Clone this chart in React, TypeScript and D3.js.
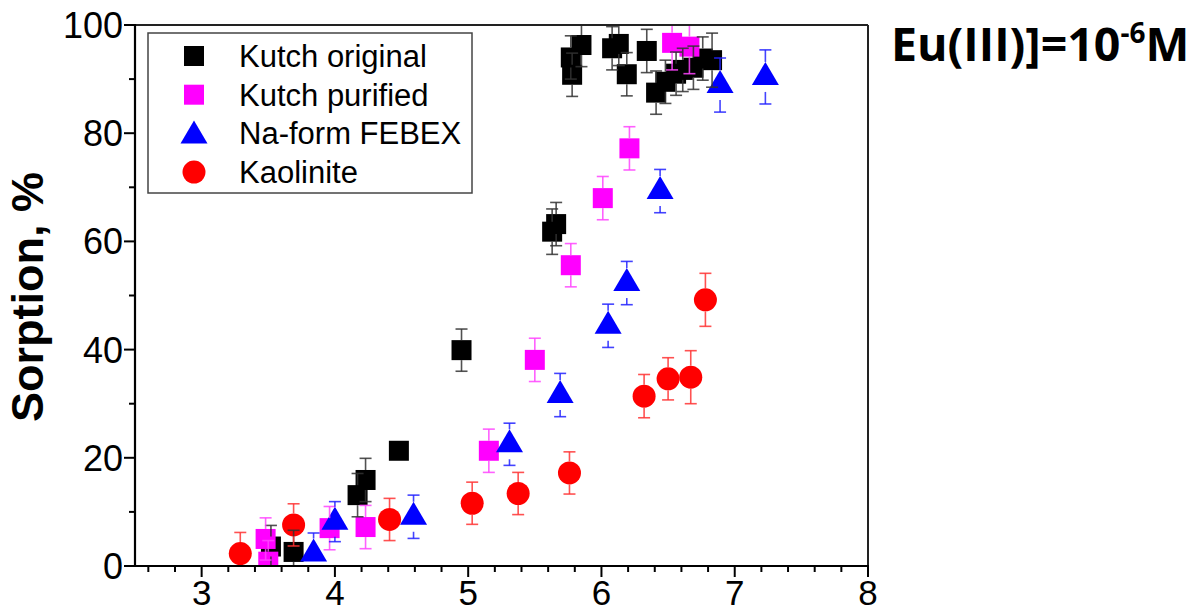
import React from 'react';
import * as d3 from 'd3';

// ---------- data ----------
const kutchOrigX = [3.52, 3.69, 4.17, 4.23, 4.48, 4.95, 5.63, 5.66, 5.77, 5.78, 5.85, 6.08, 6.13, 6.19, 6.34, 6.41, 6.48, 6.56, 6.61, 6.69, 6.76, 6.83];
const kutchOrigY = [3.6, 2.6, 13.1, 15.9, 21.3, 39.9, 61.8, 63.2, 94.0, 90.8, 96.3, 95.7, 96.5, 90.9, 95.2, 87.5, 89.5, 91.0, 91.7, 92.1, 93.8, 93.5];
const kutchOrigErr = [3.9, 4, 4, 4, 0, 3.9, 4.2, 4, 4, 4, 4, 4, 4, 4, 4, 4, 4, 4, 4, 4, 4, 5];

const kutchPurX = [3.48, 3.5, 3.96, 4.23, 5.155, 5.5, 5.77, 6.01, 6.21, 6.53, 6.66];
const kutchPurY = [5.0, 0.8, 7.0, 7.2, 21.3, 38.1, 55.6, 68.0, 77.2, 96.7, 96.0];
const kutchPurErr = [3.9, 3.9, 4, 4, 4, 4, 4, 4, 4, 5, 5];

const febexX = [3.84, 4.0, 4.59, 5.31, 5.69, 6.05, 6.19, 6.44, 6.89, 7.23];
const febexY = [2.3, 8.2, 9.1, 22.5, 31.6, 44.4, 52.3, 69.3, 88.9, 90.4];
const febexErr = [3.8, 3.7, 4, 3.9, 4, 4, 4, 4, 5, 5];

const kaolX = [3.29, 3.69, 4.41, 5.03, 5.375, 5.76, 6.32, 6.5, 6.67, 6.78];
const kaolY = [2.3, 7.6, 8.6, 11.6, 13.4, 17.2, 31.4, 34.6, 34.9, 49.2];
const kaolErr = [3.9, 3.9, 3.9, 3.9, 3.9, 3.9, 4, 3.9, 4.9, 4.9];

const seriesNames = ['Kutch original', 'Kutch purified', 'Na-form FEBEX', 'Kaolinite'];
const xTicks = [3, 4, 5, 6, 7, 8];
const yTicks = [0, 20, 40, 60, 80, 100];

// ---------- layout ----------
const W = 1194, H = 613;
const L = 135, R = 868, T = 25, B = 566;
const x = d3.scaleLinear().domain([2.5, 8]).range([L, R]);
const y = d3.scaleLinear().domain([0, 100]).range([B, T]);

type Shape = 'square' | 'triangle' | 'circle';
const series: { name: string; xs: number[]; ys: number[]; es: number[]; color: string; errColor: string; shape: Shape }[] = [
  { name: seriesNames[0], xs: kutchOrigX, ys: kutchOrigY, es: kutchOrigErr, color: '#000000', errColor: '#333333', shape: 'square' },
  { name: seriesNames[1], xs: kutchPurX, ys: kutchPurY, es: kutchPurErr, color: '#ff00ff', errColor: '#ff44ff', shape: 'square' },
  { name: seriesNames[2], xs: febexX, ys: febexY, es: febexErr, color: '#0000ff', errColor: '#2222ff', shape: 'triangle' },
  { name: seriesNames[3], xs: kaolX, ys: kaolY, es: kaolErr, color: '#ff0000', errColor: '#ff3333', shape: 'circle' },
];

const gapOf: Record<Shape, number> = { square: 10, triangle: 15, circle: 11.5 };

function Marker({ shape, cx, cy, color }: { shape: Shape; cx: number; cy: number; color: string }) {
  if (shape === 'square') return <rect x={cx - 10} y={cy - 10} width={20} height={20} fill={color} />;
  if (shape === 'circle') return <circle cx={cx} cy={cy} r={11.5} fill={color} />;
  return <path d={`M${cx},${cy - 15}L${cx + 13.5},${cy + 8}L${cx - 13.5},${cy + 8}Z`} fill={color} />;
}

export default function App() {
  const font = '"Liberation Sans", Arial, sans-serif';
  const xMinor = d3.range(2.6, 8.0001, 0.2).filter((v) => Math.abs(v - Math.round(v)) > 0.01);
  const yMinor = [10, 30, 50, 70, 90];

  return (
    <svg width={W} height={H} style={{ position: 'absolute', left: 0, top: 0, background: '#fff' }} fontFamily={font}>
      <defs>
        <clipPath id="plot">
          <rect x={L} y={T} width={R - L} height={B - T} />
        </clipPath>
      </defs>
      <rect x={0} y={0} width={W} height={H} fill="#fff" />

      {/* markers */}
      <g clipPath="url(#plot)">
        {series.map((s) =>
          s.xs.map((xv, i) => <Marker key={s.name + i} shape={s.shape} cx={x(xv)} cy={y(s.ys[i])} color={s.color} />)
        )}
        {/* error bars */}
        {series.map((s) =>
          s.xs.map((xv, i) => {
            const cx = x(xv), cy = y(s.ys[i]);
            const len = y(0) - y(s.es[i]);
            const g = gapOf[s.shape];
            if (len <= g) return null;
            return (
              <g key={'e' + s.name + i} stroke={s.errColor} strokeWidth={1.6} strokeOpacity={0.85}>
                <line x1={cx} x2={cx} y1={cy - g} y2={cy - len} />
                <line x1={cx - 6} x2={cx + 6} y1={cy - len} y2={cy - len} />
                <line x1={cx} x2={cx} y1={cy + g} y2={cy + len} />
                <line x1={cx - 6} x2={cx + 6} y1={cy + len} y2={cy + len} />
              </g>
            );
          })
        )}
      </g>

      {/* frame */}
      <line x1={L} x2={R} y1={T} y2={T} stroke="#222" strokeWidth={2} />
      <line x1={R} x2={R} y1={T} y2={B} stroke="#222" strokeWidth={2} />
      <line x1={L} x2={L} y1={T - 1} y2={B + 1} stroke="#000" strokeWidth={2.2} />
      <line x1={L - 1} x2={R + 1} y1={B} y2={B} stroke="#000" strokeWidth={2.2} />

      {/* x ticks */}
      {xTicks.map((t) => (
        <g key={'xt' + t}>
          <line x1={x(t)} x2={x(t)} y1={B} y2={B + 11} stroke="#000" strokeWidth={2} />
          <text x={x(t)} y={605} textAnchor="middle" fontSize={35}>{t}</text>
        </g>
      ))}
      {xMinor.map((t) => (
        <line key={'xm' + t} x1={x(t)} x2={x(t)} y1={B} y2={B + 6} stroke="#000" strokeWidth={2} />
      ))}

      {/* y ticks */}
      {yTicks.map((t) => (
        <g key={'yt' + t}>
          <line x1={L - 11} x2={L} y1={y(t)} y2={y(t)} stroke="#000" strokeWidth={2} />
          <text x={123} y={y(t)} dy="0.36em" textAnchor="end" fontSize={36}>{t}</text>
        </g>
      ))}
      {yMinor.map((t) => (
        <line key={'ym' + t} x1={L - 6} x2={L} y1={y(t)} y2={y(t)} stroke="#000" strokeWidth={2} />
      ))}

      {/* y title */}
      <text transform="translate(43,297) rotate(-90)" textAnchor="middle" fontSize={45} fontWeight="bold">Sorption, %</text>

      {/* legend */}
      <rect x={148} y={33} width={324} height={160} fill="#fff" stroke="#444" strokeWidth={1.5} />
      {series.map((s, i) => {
        const base = 67 + i * 38.7;
        return (
          <g key={'lg' + i}>
            <Marker shape={s.shape} cx={194} cy={base - 11 + (s.shape === 'triangle' ? 2 : 0)} color={s.color} />
            <text x={239} y={base} fontSize={31}>{s.name}</text>
          </g>
        );
      })}

      {/* annotation */}
      <text x={891} y={61} fontSize={46.5} fontWeight="bold" fontFamily='"Open Sans", sans-serif'>
        Eu(III)]=10<tspan dy={-18} fontSize={28}>-6</tspan><tspan dy={18}>M</tspan>
      </text>
    </svg>
  );
}
